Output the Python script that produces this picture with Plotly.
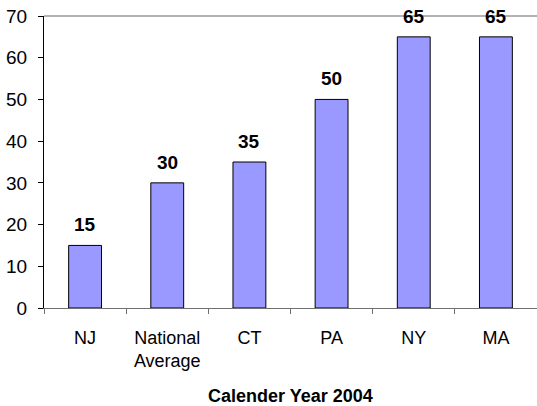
import plotly.graph_objects as go

categories = ["NJ", "National<br>Average", "CT", "PA", "NY", "MA"]
values = [15, 30, 35, 50, 65, 65]
y_ticks = [0, 10, 20, 30, 40, 50, 60, 70]

fig = go.Figure(go.Bar(
    x=categories,
    y=values,
    width=0.4,
    marker=dict(color="#9999FF", line=dict(color="black", width=1)),
))

# value labels above the bars
for c, v in zip(categories, values):
    fig.add_annotation(x=c, y=v, text="<b>%d</b>" % v, showarrow=False,
                       yanchor="bottom", yshift=8,
                       font=dict(family="Liberation Sans, Arial", size=19, color="black"))

fig.update_layout(
    width=537, height=406,
    margin=dict(l=44, r=0, t=16, b=98, autoexpand=False),
    plot_bgcolor="white",
    paper_bgcolor="white",
    font=dict(family="Liberation Sans, Arial", size=18, color="black"),
    showlegend=False,
    xaxis=dict(
        showline=True, linecolor="#707070", linewidth=1,
        ticks="outside", tickson="boundaries", ticklen=5, tickcolor="#707070",
        ticklabelstandoff=13,
        title=dict(text="<b>Calender Year 2004</b>", font=dict(size=18), standoff=22),
        showgrid=False,
    ),
    yaxis=dict(
        range=[0, 70], tickvals=y_ticks,
        showline=True, linecolor="black", linewidth=1,
        ticks="outside", ticklen=5, tickcolor="black",
        ticklabelstandoff=7,
        tickfont=dict(size=19),
        showgrid=False, zeroline=False,
    ),
)

# top gridline at 70
fig.add_shape(type="line", xref="paper", yref="paper", x0=0, x1=1, y0=1, y1=1,
              line=dict(color="#999999", width=1.5))

# drop the default 8px page margin so the figure sits at the window corner
fig.write_html("out.html", config={"displayModeBar": False},
               post_script="document.body.style.margin='0';")
